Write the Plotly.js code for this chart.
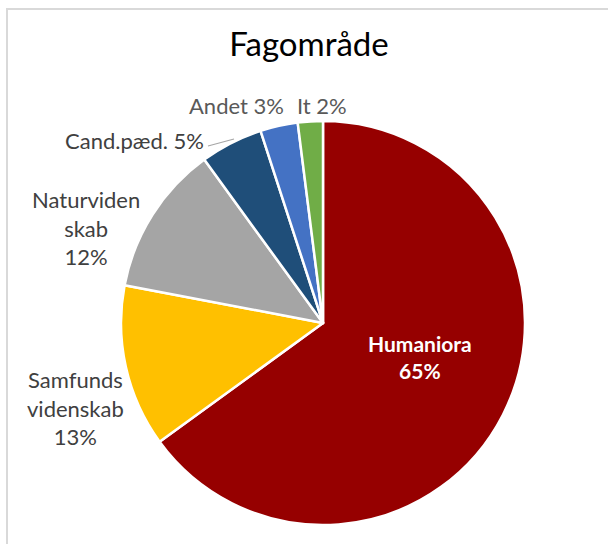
<!DOCTYPE html>
<html><head><meta charset="utf-8">
<script src="https://cdn.plot.ly/plotly-3.0.1.min.js"></script>
<style>
html,body{margin:0;padding:0;width:608px;height:544px;overflow:hidden;background:#fff;}
#frame{position:absolute;left:6px;top:8px;width:640px;height:600px;border:2px solid #d9d9d9;box-sizing:border-box;}
#chart{position:absolute;left:0;top:0;width:608px;height:544px;}
</style></head>
<body>
<div id="frame"></div>
<div id="chart"></div>
<script>
const categories = ["Humaniora", "Samfundsvidenskab", "Naturvidenskab", "Cand.pæd.", "Andet", "It"];
const displayLabels = ["Humaniora", "Samfunds<br>videnskab", "Naturviden<br>skab", "Cand.pæd.", "Andet", "It"];
const values = [65, 13, 12, 5, 3, 2];
const colors = ["#960000", "#FFC000", "#A5A5A5", "#1F4E79", "#4472C4", "#70AD47"];

const W = 608, H = 544;
const cx = 323, cy = 323, r = 202;
const FONT = "Lato, 'Open Sans', sans-serif";

// label placement (pixel positions, layout only)
const labelPos = [[420, 357], [75, 408], [86, 228], [134, 140], [236, 106], [322, 106]];
const labelColor = ["#ffffff", "#404040", "#404040", "#404040", "#595959", "#595959"];
const labelSep = ["<br>", "<br>", "<br>", " ", " ", " "];
const labelBold = [true, false, false, false, false, false];

const total = values.reduce((a, b) => a + b, 0);
const pct = values.map(v => Math.round(v / total * 100) + "%");

const trace = {
  type: "pie",
  labels: categories,
  values: values,
  sort: false,
  direction: "clockwise",
  rotation: 0,
  marker: {colors: colors, line: {color: "#ffffff", width: 2.5}},
  textinfo: "none",
  hoverinfo: "label+percent",
  domain: {x: [(cx - r) / W, (cx + r) / W], y: [(H - cy - r) / H, (H - cy + r) / H]},
  showlegend: false
};

const annotations = categories.map((c, i) => {
  let t = displayLabels[i] + labelSep[i] + pct[i];
  if (labelBold[i]) t = "<b>" + t + "</b>";
  return {
    xref: "paper", yref: "paper",
    x: labelPos[i][0] / W, y: 1 - labelPos[i][1] / H,
    xanchor: "center", yanchor: "middle",
    text: t,
    showarrow: false,
    align: "center",
    font: {family: FONT, size: labelBold[i] ? 21 : 22, color: labelColor[i]}
  };
});

const layout = {
  width: W, height: H,
  margin: {l: 0, r: 0, t: 0, b: 0},
  paper_bgcolor: "rgba(0,0,0,0)",
  plot_bgcolor: "rgba(0,0,0,0)",
  title: {text: "Fagområde", x: 309 / W, xanchor: "center", y: 1 - 44 / H, yanchor: "middle",
          font: {family: FONT, size: 33, color: "#000000"}},
  annotations: annotations,
  shapes: [{type: "line", xref: "paper", yref: "paper",
            x0: 208 / W, y0: 1 - 146 / H, x1: 234 / W, y1: 1 - 139 / H,
            line: {color: "#a6a6a6", width: 1.2}}]
};

Plotly.newPlot("chart", [trace], layout, {displayModeBar: false, staticPlot: true});
</script>
</body></html>
